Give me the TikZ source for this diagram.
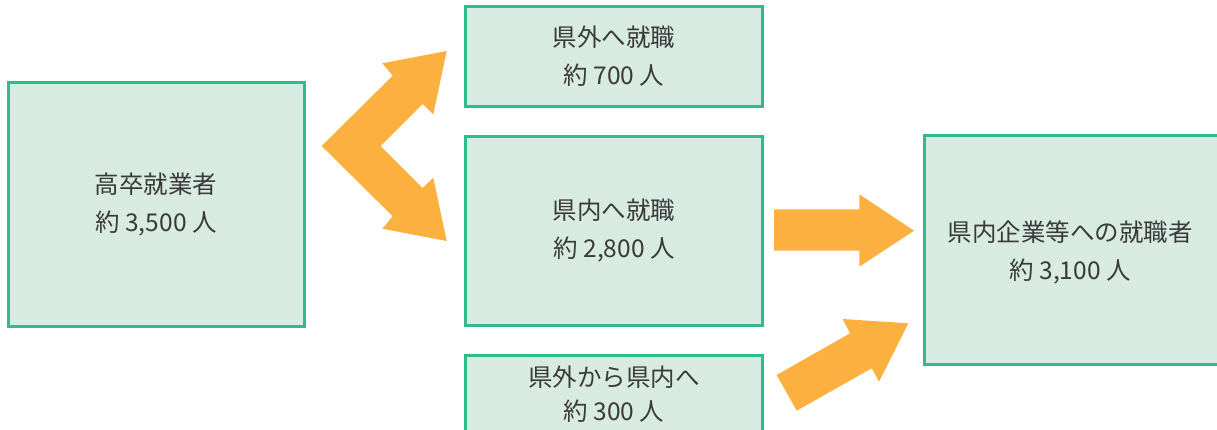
\documentclass[tikz,border=0pt]{standalone}
\usepackage{fontspec}
\newfontfamily\cjk{Noto Sans CJK JP}
\definecolor{boxline}{HTML}{2EBD8A}
\definecolor{boxfill}{HTML}{D7EBE2}
\definecolor{arr}{HTML}{FBB040}
\definecolor{txt}{HTML}{3A3A3A}
\tikzset{
  box/.style={draw=boxline, fill=boxfill, line width=3pt, inner sep=0pt, align=center,
    text=txt, font={\cjk\fontsize{24.5pt}{38pt}\selectfont}},
  blockarrow/.style={fill=arr, draw=none}
}
\begin{document}
\begin{tikzpicture}[x=1pt,y=-1pt]
\useasboundingbox (0,0) rectangle (1217,430);
\begin{scope}
\clip (0,0) rectangle (1217,430);
\node[box, minimum width=296pt, minimum height=243pt] (hs) at (156,204.5) {高卒就業者\\約 3,500 人};
\node[box, minimum width=297pt, minimum height=100pt] (out) at (614,56.5) {県外へ就職\\約 700 人};
\node[box, minimum width=297pt, minimum height=188pt] (in) at (614,231) {県内へ就職\\約 2,800 人};
\node[box, minimum width=297pt, minimum height=90pt, anchor=north] (ret) at (614,354) {};
\node[text=txt, align=center, font={\cjk\fontsize{24.5pt}{34pt}\selectfont}] (rett) at (614,394) {県外から県内へ\\約 300 人};
\node[box, minimum width=302pt, minimum height=229pt, anchor=north west] (tot) at (923,134) {};
\node[text=txt, align=center, font={\cjk\fontsize{24.5pt}{38pt}\selectfont}] (tott) at (1070,252) {県内企業等への就職者\\約 3,100 人};
\end{scope}
% chevron double arrow
\fill[blockarrow] (321.7,146) -- (392.7,75.7) -- (382.3,63.3) -- (446.7,51) -- (433.3,114.3) -- (422.7,104)
  -- (380.7,146) -- (422.7,188) -- (433.3,177.7) -- (446.7,241) -- (382.3,228.7) -- (392.7,216.3) -- cycle;
% straight arrow
\fill[blockarrow] (774,209.3) -- (859.3,209.3) -- (859.3,194.3) -- (914,230.7) -- (859.3,266.7) -- (859.3,250.7) -- (774,250.7) -- cycle;
% diagonal arrow
\fill[blockarrow] (776.7,375) -- (850,333.3) -- (842.7,319) -- (908.3,323.3) -- (879,381.7) -- (871.7,368.3) -- (796.7,410.7) -- cycle;
\end{tikzpicture}
\end{document}
